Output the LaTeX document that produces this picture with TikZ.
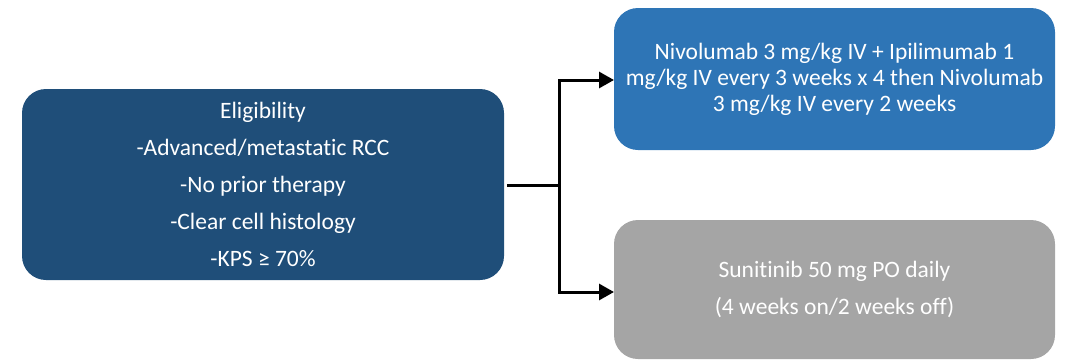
\documentclass[tikz,border=0pt]{standalone}
\usepackage{fontspec}
\setmainfont{Carlito}[Ligatures=NoCommon]
\usetikzlibrary{arrows.meta}
\definecolor{darkblue}{RGB}{31,78,121}
\definecolor{midblue}{RGB}{46,117,182}
\definecolor{boxgray}{RGB}{165,165,165}
\begin{document}
\begin{tikzpicture}[x=1pt,y=-1pt,
  box/.style={text=white, align=center, inner sep=0pt},
  wide/.style={font=\fontsize{23.5}{37}\selectfont},
  tight/.style={font=\fontsize{23.5}{26}\selectfont},
  conn/.style={line width=3pt, draw=black},
  tip/.style={-{Triangle[length=15pt,width=16pt]}}]
\useasboundingbox (0,0) rectangle (1066,360);
\fill[darkblue, rounded corners=24pt] (22,89) rectangle (504,280);
\node[box, wide, minimum width=482pt, minimum height=191pt] (elig) at (263,184.5)
  {Eligibility\\-Advanced/metastatic RCC\\-No prior therapy\\-Clear cell histology\\-KPS ≥ 70\%};
\fill[midblue, rounded corners=24pt] (614,8) rectangle (1055,150);
\node[box, tight, minimum width=441pt, minimum height=142pt] (nivo) at (834.5,79)
  {Nivolumab 3 mg/kg IV + Ipilimumab 1\\mg/kg IV every 3 weeks x 4 then Nivolumab\\3 mg/kg IV every 2 weeks};
\fill[boxgray, rounded corners=24pt] (614,220) rectangle (1055,359);
\node[box, wide, minimum width=441pt, minimum height=139pt] (suni) at (834.5,289.5)
  {Sunitinib 50 mg PO daily\\(4 weeks on/2 weeks off)};
\coordinate (split) at (559,185);
\coordinate (upper) at (614,80);
\coordinate (lower) at (614,292);
\draw[conn] ([xshift=3pt]elig.east |- split) -- (split);
\draw[conn, tip] (split) |- (upper);
\draw[conn, tip] (split) |- (lower);
\end{tikzpicture}
\end{document}
